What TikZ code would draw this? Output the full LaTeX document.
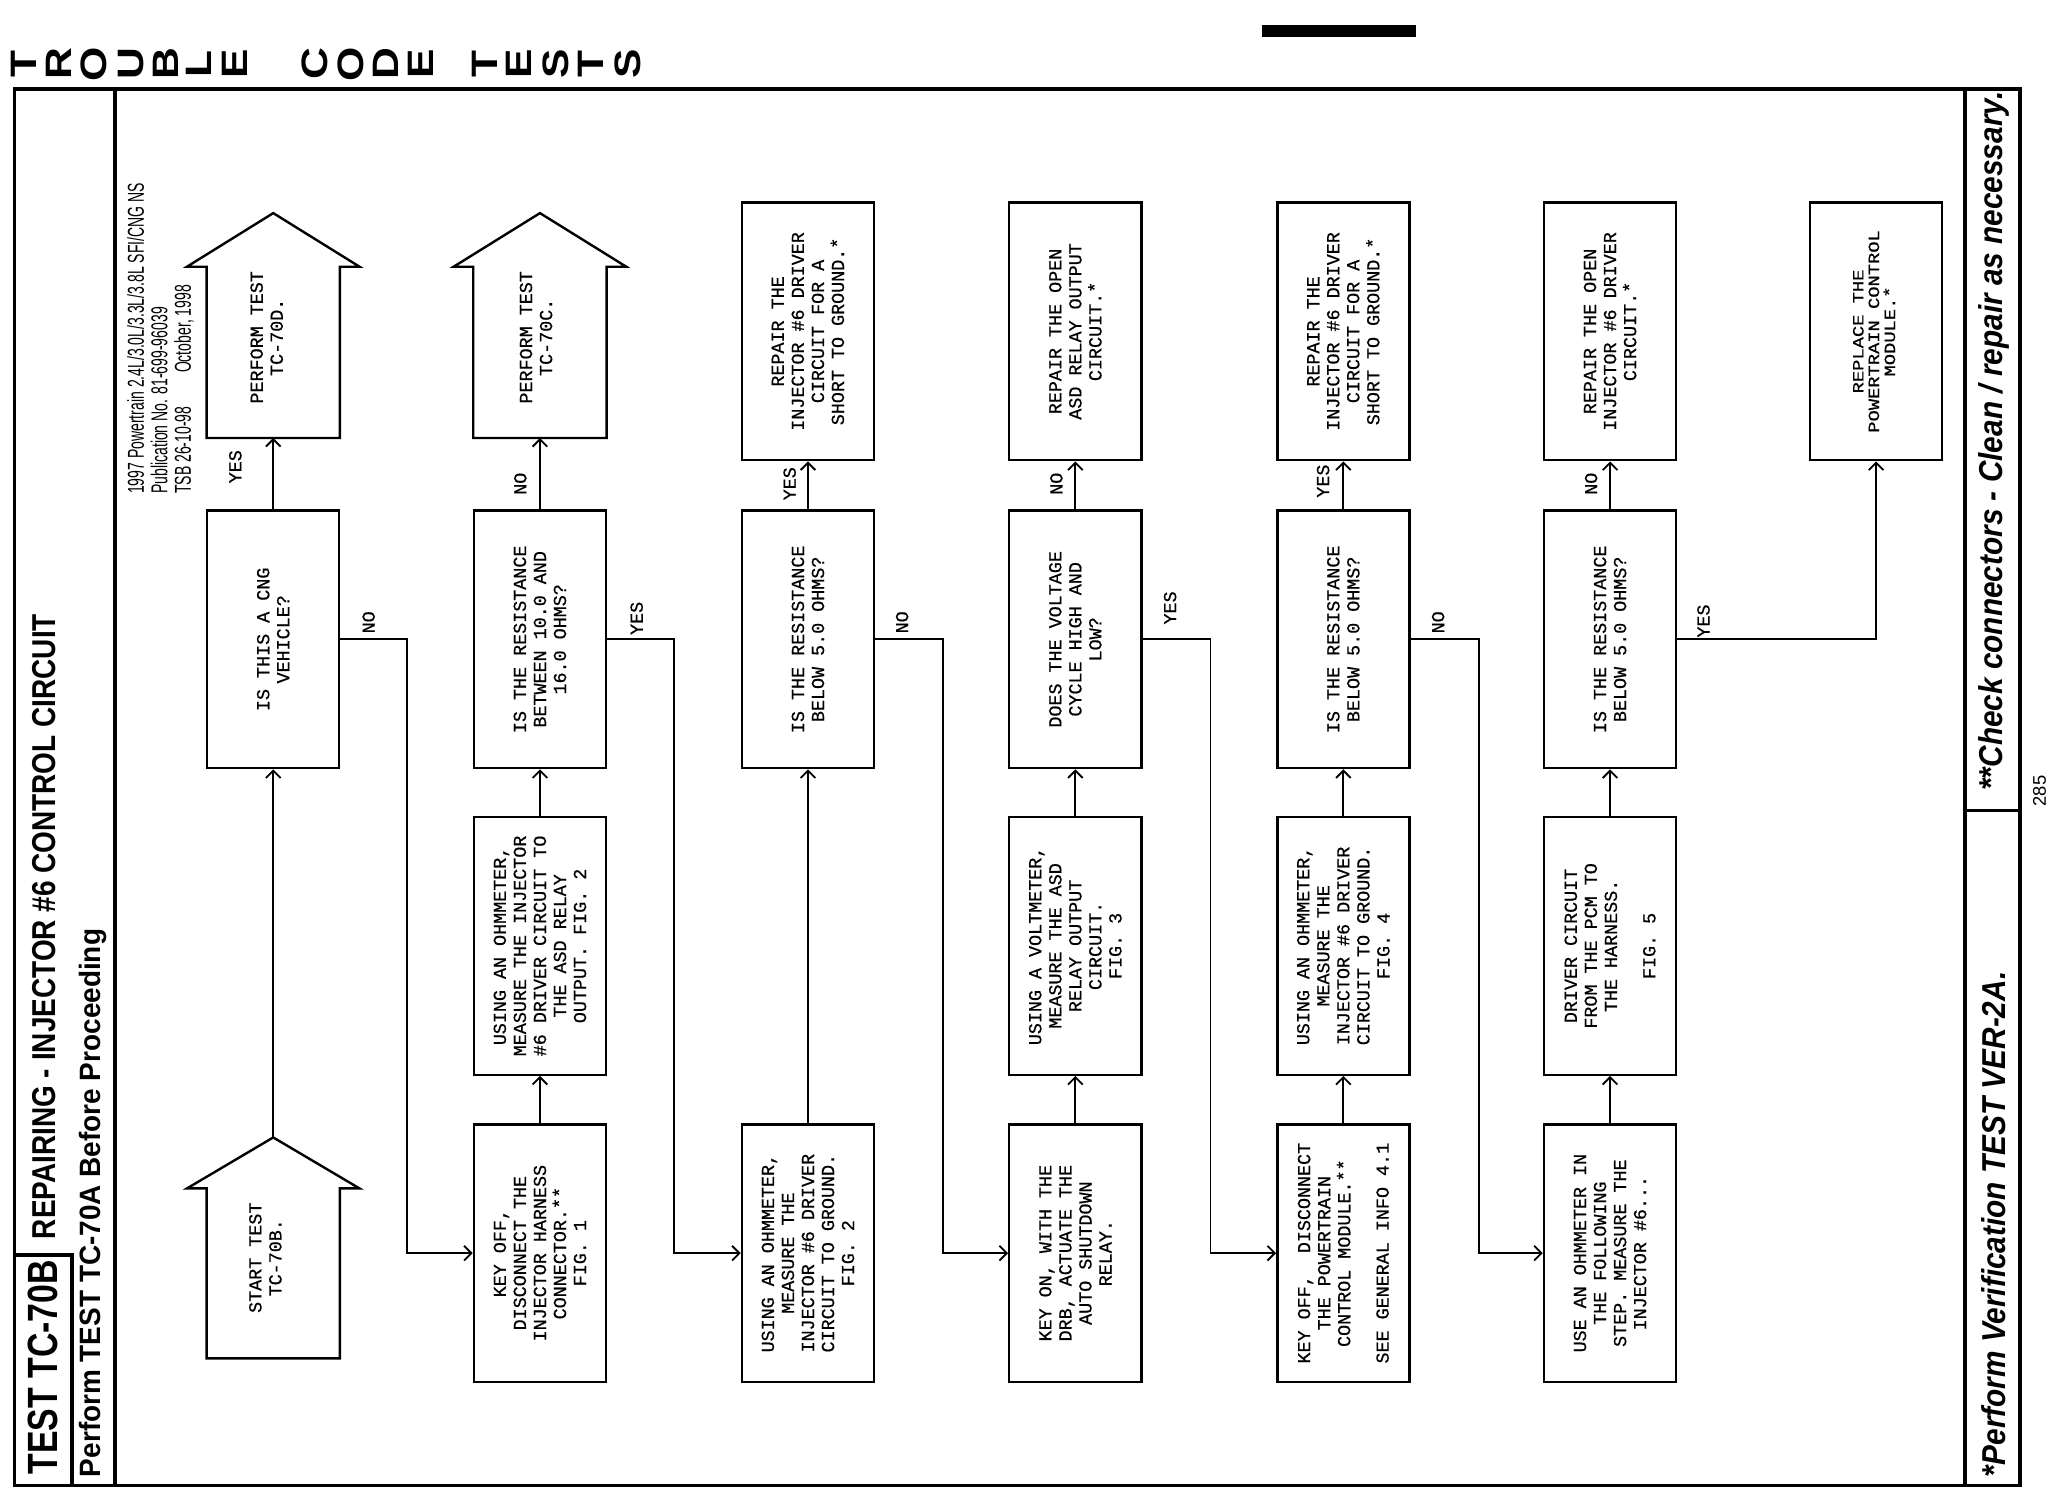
\documentclass[tikz,border=0pt]{standalone}
\usepackage{fontspec}
\setmainfont{Liberation Serif}
\setsansfont{Liberation Sans}
\setmonofont{Liberation Mono}[FakeBold=0.6]
\usepackage{graphicx}
\usetikzlibrary{arrows.meta}
\newcommand{\narrowtext}[2]{\scalebox{#1}[1]{#2}}

\begin{document}
\begin{tikzpicture}[x=0.025cm, y=-0.025cm,
  stepbox/.style={draw, line width=1.3pt, rotate=90, minimum width=4.925cm,
    minimum height=2.525cm, inner sep=0pt, align=center,
    font=\ttfamily\fontsize{10}{10.9}\selectfont},
  housetext/.style={rotate=90, inner sep=0pt, align=center,
    font=\ttfamily\fontsize{10}{10.9}\selectfont},
  house/.style={draw, line width=1.3pt},
  flow/.style={line width=1pt, -{Straight Barb[length=4pt,width=8pt]}},
  answer/.style={rotate=90, inner sep=0pt, font=\ttfamily\fontsize{10}{10}\selectfont},
  pageline/.style={line width=1.8pt},
  sidetext/.style={rotate=90, anchor=west, inner sep=0pt},
]
  \useasboundingbox (0,0) rectangle (1568,1150);

  % Page frame and header
  \fill (965,19) rectangle (1083,28);
  \foreach \ch/\xx in {T/18,R/45,O/72,U/100,B/127,L/152,E/180,C/241,O/268,D/295,E/322,T/371,E/397,S/425,T/452,S/480}
    \node[rotate=90, inner sep=0pt, font=\sffamily\bfseries\fontsize{20}{20}\selectfont] (head\xx) at (\xx,49) {\scalebox{1.2}[1]{\ch}};
  \draw[pageline] (11,68) rectangle (1545,1136);
  \draw[pageline] (88,68) -- (88,1136);
  \draw[pageline] (1503,68) -- (1503,1136);
  \draw[pageline] (11,960) -| (55,1136);
  \draw[pageline] (1503,620) -- (1545,620);

  % Title column
  \node[sidetext, font=\sffamily\bfseries\fontsize{23}{23}\selectfont] (testid) at (33,1128) {\narrowtext{0.8}{TEST TC-70B}};
  \node[sidetext, font=\sffamily\bfseries\fontsize{18}{18}\selectfont] (title) at (34,948) {\narrowtext{0.845}{REPAIRING - INJECTOR \#6 CONTROL CIRCUIT}};
  \node[sidetext, font=\sffamily\bfseries\fontsize{16}{16}\selectfont] (before) at (71,1130) {\narrowtext{0.95}{Perform TEST TC-70A Before Proceeding}};
  \node[rotate=90, anchor=north west, inner sep=0pt, align=left, font=\sffamily\fontsize{12.5}{12.8}\selectfont] (pubinfo) at (97,378)
    {\narrowtext{0.61}{1997 Powertrain 2.4L/3.0L/3.3L/3.8L SFI/CNG NS}\\
     \narrowtext{0.61}{Publication No. 81-699-96039}\\
     \narrowtext{0.61}{TSB 26-10-98\hspace{2.4em}October, 1998}};

  % Right column
  \node[sidetext, font=\sffamily\bfseries\itshape\fontsize{18}{18}\selectfont] (verify) at (1525,1130) {\narrowtext{0.9}{*Perform Verification TEST VER-2A.}};
  \node[sidetext, font=\sffamily\bfseries\itshape\fontsize{18}{18}\selectfont] (checkconn) at (1525,605) {\narrowtext{0.9}{**Check connectors - Clean / repair as necessary.}};
  \node[rotate=90, inner sep=0pt, font=\sffamily\fontsize{10}{10}\selectfont] (pagenum) at (1560,605) {285};

  % Column 1: start and CNG question
  \draw[house] (158,335) -- (158,204) -- (143,204) -- (209,163) -- (275,204) -- (260,204) -- (260,335) -- cycle;
  \node[housetext] (perfD) at (204,258) {PERFORM TEST\\TC-70D.};
  \coordinate (perfDbase) at (209,335);
  \node[stepbox] (cng) at (209,489) {IS THIS A CNG\\VEHICLE?};
  \draw[house] (158,1039) -- (158,909) -- (143,909) -- (209,870) -- (275,909) -- (260,909) -- (260,1039) -- cycle;
  \node[housetext] (start) at (203,962) {START TEST\\TC-70B.};
  \coordinate (starttip) at (209,870);

  % Column 2
  \draw[house] (362,335) -- (362,204) -- (347,204) -- (413,163) -- (479,204) -- (464,204) -- (464,335) -- cycle;
  \node[housetext] (perfC) at (410,258) {PERFORM TEST\\TC-70C.};
  \coordinate (perfCbase) at (413,335);
  \node[stepbox] (res1) at (413,489) {IS THE RESISTANCE\\BETWEEN 10.0 AND\\16.0 OHMS?};
  \node[stepbox] (ohm1) at (413,723.5) {USING AN OHMMETER,\\MEASURE THE INJECTOR\\\#6 DRIVER CIRCUIT TO\\THE ASD RELAY\\OUTPUT. FIG. 2};
  \node[stepbox] (keyoff1) at (413,958.5) {KEY OFF,\\DISCONNECT THE\\INJECTOR HARNESS\\CONNECTOR.**\\FIG. 1};

  % Column 3
  \node[stepbox] (short1) at (618,253.5) {REPAIR THE\\INJECTOR \#6 DRIVER\\CIRCUIT FOR A\\SHORT TO GROUND.*};
  \node[stepbox] (res2) at (618,489) {IS THE RESISTANCE\\BELOW 5.0 OHMS?};
  \node[stepbox] (ohm2) at (618,958.5) {USING AN OHMMETER,\\MEASURE THE\\INJECTOR \#6 DRIVER\\CIRCUIT TO GROUND.\\FIG. 2};

  % Column 4
  \node[stepbox] (openasd) at (822.5,253.5) {REPAIR THE OPEN\\ASD RELAY OUTPUT\\CIRCUIT.*};
  \node[stepbox] (volt) at (822.5,489) {DOES THE VOLTAGE\\CYCLE HIGH AND\\LOW?};
  \node[stepbox] (voltm) at (822.5,723.5) {USING A VOLTMETER,\\MEASURE THE ASD\\RELAY OUTPUT\\CIRCUIT.\\FIG. 3};
  \node[stepbox] (keyon) at (822.5,958.5) {KEY ON, WITH THE\\DRB, ACTUATE THE\\AUTO SHUTDOWN\\RELAY.};

  % Column 5
  \node[stepbox] (short2) at (1027.5,253.5) {REPAIR THE\\INJECTOR \#6 DRIVER\\CIRCUIT FOR A\\SHORT TO GROUND.*};
  \node[stepbox] (res3) at (1027.5,489) {IS THE RESISTANCE\\BELOW 5.0 OHMS?};
  \node[stepbox] (ohm3) at (1027.5,723.5) {USING AN OHMMETER,\\MEASURE THE\\INJECTOR \#6 DRIVER\\CIRCUIT TO GROUND.\\FIG. 4};
  \node[stepbox] (keyoff2) at (1027.5,958.5) {KEY OFF,\ \ DISCONNECT\\THE POWERTRAIN\\CONTROL MODULE.**\\[10pt]SEE GENERAL INFO 4.1};

  % Column 6
  \node[stepbox] (opendrv) at (1231.5,253.5) {REPAIR THE OPEN\\INJECTOR \#6 DRIVER\\CIRCUIT.*};
  \node[stepbox] (res4) at (1231.5,489) {IS THE RESISTANCE\\BELOW 5.0 OHMS?};
  \node[stepbox] (pcm) at (1231.5,723.5) {DRIVER CIRCUIT\\FROM THE PCM TO\\THE HARNESS.\\[10pt]FIG. 5};
  \node[stepbox] (useohm) at (1231.5,958.5) {USE AN OHMMETER IN\\THE FOLLOWING\\STEP. MEASURE THE\\INJECTOR \#6...};

  % Column 7
  \node[stepbox, font=\ttfamily\fontsize{8.5}{8.5}\selectfont] (replace) at (1435,253.5)
    {\narrowtext{1.2}{\begin{tabular}{@{}c@{}}REPLACE THE\\POWERTRAIN CONTROL\\MODULE.*\end{tabular}}};

  % Connectors
  \draw[flow] (starttip) -- (cng.west);
  \draw[flow] (cng.east) -- (perfDbase);
  \draw[flow] (cng.south) -- ++(51,0) |- (keyoff1.north);
  \draw[flow] (keyoff1.east) -- (ohm1.west);
  \draw[flow] (ohm1.east) -- (res1.west);
  \draw[flow] (res1.east) -- (perfCbase);
  \draw[flow] (res1.south) -- ++(51,0) |- (ohm2.north);
  \draw[flow] (ohm2.east) -- (res2.west);
  \draw[flow] (res2.east) -- (short1.west);
  \draw[flow] (res2.south) -- ++(52,0) |- (keyon.north);
  \draw[flow] (keyon.east) -- (voltm.west);
  \draw[flow] (voltm.east) -- (volt.west);
  \draw[flow] (volt.east) -- (openasd.west);
  \draw[flow] (volt.south) -- ++(52,0) |- (keyoff2.north);
  \draw[flow] (keyoff2.east) -- (ohm3.west);
  \draw[flow] (ohm3.east) -- (res3.west);
  \draw[flow] (res3.east) -- (short2.west);
  \draw[flow] (res3.south) -- ++(52,0) |- (useohm.north);
  \draw[flow] (useohm.east) -- (pcm.west);
  \draw[flow] (pcm.east) -- (res4.west);
  \draw[flow] (res4.east) -- (opendrv.west);
  \draw[flow] (res4.south) -| (replace.west);

  % Answers
  \node[answer] (ansA1) at (180,357) {YES};
  \node[answer] (ansA2) at (282,476) {NO};
  \node[answer] (ansB1) at (398,370) {NO};
  \node[answer] (ansB2) at (487,473) {YES};
  \node[answer] (ansC1) at (604,370) {YES};
  \node[answer] (ansC2) at (690,476) {NO};
  \node[answer] (ansD1) at (808,370) {NO};
  \node[answer] (ansD2) at (895,465) {YES};
  \node[answer] (ansE1) at (1012,368) {YES};
  \node[answer] (ansE2) at (1100,476) {NO};
  \node[answer] (ansF1) at (1217,370) {NO};
  \node[answer] (ansF2) at (1303,475) {YES};
\end{tikzpicture}
\end{document}
